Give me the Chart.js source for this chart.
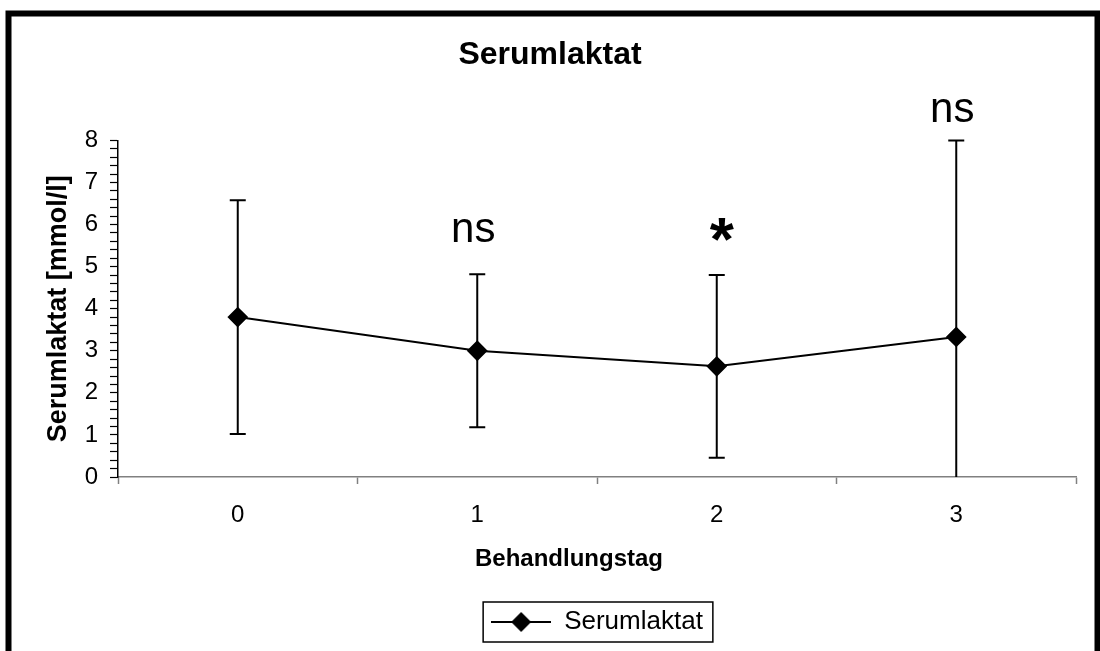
<!DOCTYPE html>
<html>
<head>
<meta charset="utf-8">
<script src="https://cdn.jsdelivr.net/npm/chart.js@4.4.1/dist/chart.umd.min.js"></script>
<style>
  html, body { margin: 0; padding: 0; background: #fff; overflow: hidden; }
  #wrap { position: relative; width: 1100px; height: 651px; }
</style>
</head>
<body>
<div id="wrap"><canvas id="canvas" width="1100" height="651"></canvas></div>
<script>
// data
const days = ['0', '1', '2', '3'];
const laktatMean = [3.8, 3.0, 2.63, 3.33];
const laktatSd = [2.78, 1.82, 2.17, 4.67];
const sigText = ['', 'ns', '*', 'ns'];
const sigLevel = [null, 5.58, 5.15, 8.43];   // where the label sits (axis units)

const FONT = "'Liberation Sans', Arial, sans-serif";

// legend symbol: line with a diamond
function legendSymbol() {
    let c = document.createElement('canvas');
    c.width = 60; c.height = 22;
    let g = c.getContext('2d');
    g.strokeStyle = '#000'; g.lineWidth = 2;
    g.beginPath(); g.moveTo(0, 11); g.lineTo(60, 11); g.stroke();
    g.fillStyle = '#000';
    g.beginPath(); g.moveTo(30, 1); g.lineTo(40, 11); g.lineTo(30, 21); g.lineTo(20, 11); g.closePath(); g.fill();
    return c;
}

const extras = {
    id: 'extras',
    beforeDraw(chart) {
        let ctx = chart.ctx;
        ctx.save();
        ctx.fillStyle = '#fff';
        ctx.fillRect(0, 0, chart.width, chart.height);
        ctx.strokeStyle = '#000';
        ctx.lineWidth = 6;
        ctx.strokeRect(8.5, 13.5, 1089, 800);
        ctx.restore();
    },
    beforeDatasetsDraw(chart) {
        let ctx = chart.ctx, x = chart.scales.x, y = chart.scales.y;
        let area = chart.chartArea;
        ctx.save();
        ctx.beginPath();
        ctx.rect(area.left, 0, area.right - area.left, area.bottom);
        ctx.clip();
        ctx.strokeStyle = '#000';
        ctx.lineWidth = 2;
        laktatMean.forEach((m, i) => {
            let px = x.getPixelForValue(i);
            let top = y.getPixelForValue(m + laktatSd[i]);
            let bot = y.getPixelForValue(m - laktatSd[i]);
            ctx.beginPath();
            ctx.moveTo(px, top); ctx.lineTo(px, bot);
            ctx.moveTo(px - 8, top); ctx.lineTo(px + 8, top);
            ctx.moveTo(px - 8, bot); ctx.lineTo(px + 8, bot);
            ctx.stroke();
        });
        ctx.restore();
    },
    afterDraw(chart) {
        let ctx = chart.ctx, x = chart.scales.x, y = chart.scales.y;
        ctx.save();
        ctx.fillStyle = '#000';
        ctx.textAlign = 'center';
        ctx.textBaseline = 'alphabetic';
        sigText.forEach((t, i) => {
            if (!t) return;
            let star = t === '*';
            ctx.font = star ? 'bold 62px ' + FONT : '42px ' + FONT;
            ctx.fillText(t, x.getPixelForValue(i) + (star ? 5 : -4), y.getPixelForValue(sigLevel[i]));
        });
        // x axis title
        ctx.font = 'bold 24px ' + FONT;
        ctx.fillText('Behandlungstag', 569, 566);
        // legend frame
        let hb = chart.legend.legendHitBoxes[0];
        if (hb) {
            ctx.strokeStyle = '#000';
            ctx.lineWidth = 1.5;
            ctx.strokeRect(hb.left - 8, hb.top + hb.height / 2 - 20, hb.width + 18, 40);
        }
        ctx.restore();
    }
};

let ctx = document.getElementById('canvas').getContext('2d');
let myChart = new Chart(ctx, {
    type: 'line',
    data: {
        labels: days,
        datasets: [{
            label: 'Serumlaktat',
            data: laktatMean,
            borderColor: '#000',
            backgroundColor: '#000',
            borderWidth: 2,
            pointStyle: 'rectRot',
            pointRadius: 9,
            pointBorderWidth: 2,
            pointBackgroundColor: '#000',
            pointBorderColor: '#000',
            tension: 0
        }]
    },
    options: {
        responsive: false,
        animation: false,
        layout: { padding: { left: 0, right: 0, top: 0, bottom: 6 } },
        plugins: {
            title: {
                display: true,
                text: 'Serumlaktat',
                color: '#000',
                font: { family: FONT, size: 32, weight: 'bold' },
                padding: { top: 36, bottom: 66 }
            },
            legend: {
                display: true,
                position: 'bottom',
                fullSize: false,
                labels: {
                    color: '#000',
                    font: { family: FONT, size: 26 },
                    usePointStyle: true,
                    pointStyle: legendSymbol(),
                    pointStyleWidth: 60,
                    padding: 12
                }
            },
            tooltip: { enabled: false }
        },
        scales: {
            x: {
                offset: true,
                grid: { display: true, offset: true, drawOnChartArea: false, tickLength: 7, tickColor: '#808080', tickWidth: 1.5 },
                border: { color: '#808080', width: 1.5 },
                ticks: { color: '#000', font: { family: FONT, size: 24 }, padding: 17 },
                afterFit(scale) { scale.height = 120; }
            },
            y: {
                min: 0,
                max: 8,
                grid: { display: true, drawOnChartArea: false, tickLength: 8, tickColor: '#000', tickWidth: 1.2 },
                border: { color: '#000', width: 1.5 },
                ticks: {
                    stepSize: 0.2,
                    autoSkip: false,
                    color: '#000',
                    font: { family: FONT, size: 24 },
                    padding: 12,
                    callback: v => Math.abs(v - Math.round(v)) < 1e-6 ? String(Math.round(v)) : ''
                },
                title: {
                    display: true,
                    text: 'Serumlaktat [mmol/l]',
                    color: '#000',
                    font: { family: FONT, size: 27, weight: 'bold' },
                    padding: { top: 42, bottom: 0 }
                },
                afterFit(scale) { scale.width = 118; }
            },
            // empty strip on the right so the plot ends where the original does
            spacer: {
                type: 'linear',
                position: 'right',
                display: true,
                grid: { display: false },
                border: { display: false },
                ticks: { display: false },
                afterFit(scale) { scale.width = 24; }
            }
        }
    },
    plugins: [extras]
});
</script>
</body>
</html>
